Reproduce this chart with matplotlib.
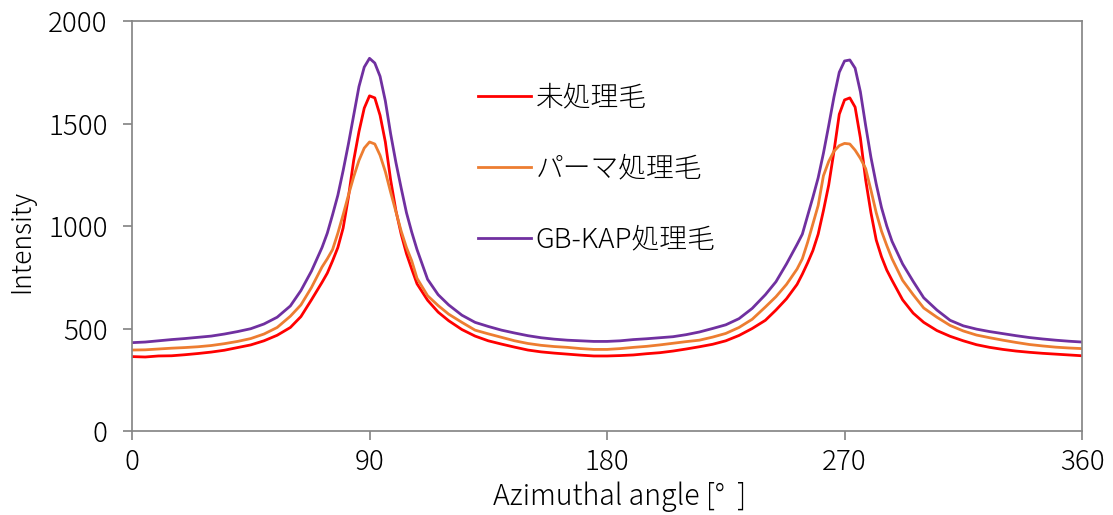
import matplotlib
matplotlib.use("Agg")
import matplotlib.pyplot as plt

plt.rcParams['font.family'] = ['Noto Sans CJK JP', 'DejaVu Sans']

angles = [0, 5, 10, 15, 20, 25, 30, 35, 40, 45, 50, 55, 60, 64, 68, 72, 74, 76, 78, 80,
          82, 84, 86, 88, 90, 92, 94, 96, 98, 100, 102, 104, 106, 108, 112, 116, 120,
          125, 130, 135, 140, 145, 150, 155, 160, 165, 170, 175, 180, 185, 190, 195, 200,
          205, 210, 215, 220, 225, 230, 235, 240, 244, 248, 252, 254, 256, 258, 260, 262,
          264, 266, 268, 270, 272, 274, 276, 278, 280, 282, 284, 286, 288, 292, 296, 300,
          305, 310, 315, 320, 325, 330, 335, 340, 345, 350, 355, 360]

untreated = [363, 361, 366, 367, 372, 378, 385, 394, 407, 420, 440, 467, 505, 558, 640, 725,
             770, 830, 895, 990, 1140, 1320, 1460, 1575, 1635, 1625, 1540, 1410, 1225, 1075,
             960, 865, 790, 718, 638, 580, 538, 495, 463, 440, 424, 409, 395, 386, 380, 375,
             370, 366, 366, 368, 371, 377, 382, 390, 400, 411, 423, 440, 466, 500, 540, 590,
             645, 715, 765, 820, 880, 960, 1075, 1200, 1365, 1545, 1615, 1625, 1580, 1430,
             1225, 1065, 932, 850, 785, 735, 640, 575, 530, 490, 462, 440, 421, 408, 398,
             390, 384, 379, 375, 371, 367]

perm = [395, 396, 400, 404, 407, 411, 417, 426, 437, 451, 473, 505, 560, 615, 700, 800,
        840, 885, 965, 1055, 1150, 1240, 1320, 1380, 1410, 1400, 1345, 1265, 1165, 1070,
        975, 895, 830, 745, 660, 612, 570, 530, 492, 474, 457, 440, 427, 418, 412, 408,
        402, 398, 398, 402, 408, 413, 420, 428, 436, 443, 458, 476, 505, 545, 605, 655,
        715, 790, 840, 920, 1010, 1100, 1245, 1315, 1365, 1392, 1403, 1400, 1370, 1330,
        1280, 1175, 1065, 975, 905, 840, 735, 665, 600, 555, 515, 488, 468, 455, 443,
        432, 422, 415, 409, 405, 402]

gbkap = [431, 434, 440, 446, 451, 457, 463, 473, 485, 499, 522, 555, 610, 685, 780, 895,
         965, 1055, 1150, 1270, 1400, 1540, 1680, 1775, 1818, 1795, 1730, 1610, 1450, 1310,
         1185, 1065, 970, 885, 740, 665, 615, 565, 530, 510, 492, 478, 465, 455, 448, 443,
         440, 437, 437, 440, 446, 450, 455, 460, 470, 483, 500, 518, 548, 598, 665, 728,
         815, 910, 960, 1050, 1140, 1235, 1355, 1490, 1630, 1750, 1805, 1810, 1770, 1655,
         1490, 1335, 1205, 1090, 1000, 925, 815, 730, 650, 590, 540, 513, 497, 485, 475,
         465, 456, 449, 443, 438, 434]

labels = ['未処理毛', 'パーマ処理毛', 'GB-KAP処理毛']
colors = ['#FF0000', '#ED7D31', '#7030A0']
series = [untreated, perm, gbkap]

xticks = [0, 90, 180, 270, 360]
yticks = [0, 500, 1000, 1500, 2000]

fig = plt.figure(figsize=(11.13, 5.15), dpi=100)
ax = fig.add_axes([0.1186, 0.1631, 0.8536, 0.7961])

for vals, c, lab in zip(series, colors, labels):
    ax.plot(angles, vals, color=c, lw=2.0, label=lab, solid_joinstyle='round')

ax.set_xlim(0, 360)
ax.set_ylim(0, 2000)
ax.set_xticks(xticks)
ax.set_yticks(yticks)
ax.set_xticklabels([str(t) for t in xticks], fontweight='light')
ax.set_yticklabels([str(t) for t in yticks], fontweight='light')

axis_col = '#868686'
for s in ax.spines.values():
    s.set_color(axis_col)
    s.set_linewidth(1.25)
ax.tick_params(axis='both', which='both', direction='out', length=6.5, width=1.25,
               color=axis_col, labelsize=20, labelcolor='black')
ax.tick_params(axis='y', pad=11)
ax.tick_params(axis='x', pad=6)

ax.set_xlabel('Azimuthal angle [°  ]', fontsize=20.5, fontweight='light', labelpad=4)
ax.xaxis.label.set_x(0.513)
ax.set_ylabel('Intensity', fontsize=19, fontweight='light')
ax.yaxis.set_label_coords(-0.102, 0.461)

leg = ax.legend(loc='upper left', bbox_to_anchor=(0.364, 0.847), frameon=False,
                fontsize=20, handlelength=1.9, handletextpad=0.18, labelspacing=1.54,
                borderpad=0, borderaxespad=0)
for t in leg.get_texts():
    t.set_fontweight('light')

fig.savefig('out.png', dpi=100)
